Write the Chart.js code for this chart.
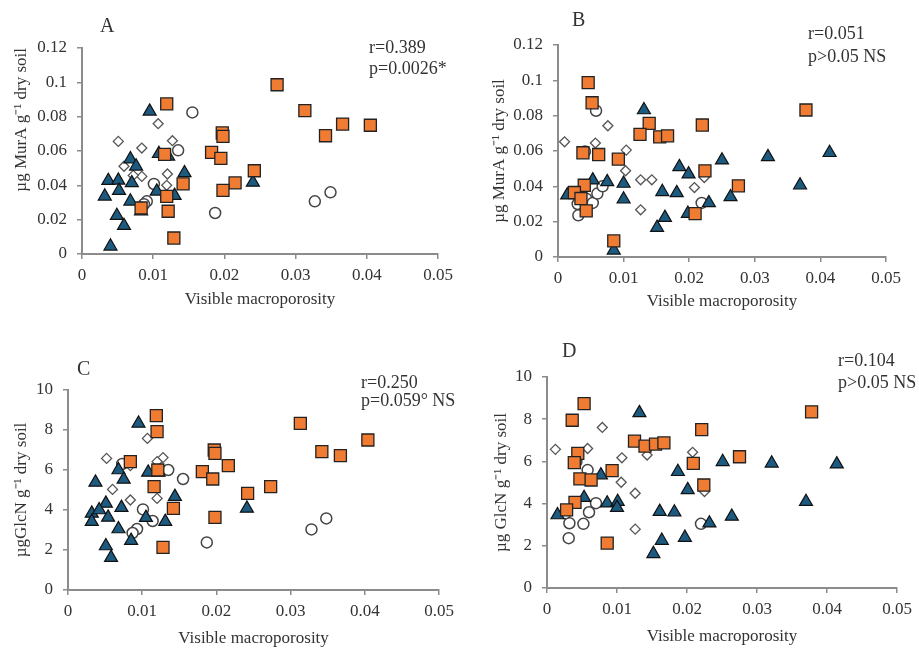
<!DOCTYPE html>
<html>
<head>
<meta charset="utf-8">
<script src="https://cdn.jsdelivr.net/npm/chart.js@4.4.0/dist/chart.umd.min.js"></script>
<style>
  body { margin: 0; background: #fff; }
  #page { position: relative; width: 919px; height: 649px; overflow: hidden; font-family: "Liberation Serif", serif; color: #333; }
  canvas { position: absolute; }
  .txt { position: absolute; white-space: nowrap; line-height: 1; }
</style>
</head>
<body>
<div id="page">
  <canvas id="chartA" width="460" height="320" style="left:0;top:0"></canvas>
  <canvas id="chartB" width="439" height="320" style="left:480px;top:0"></canvas>
  <canvas id="chartC" width="460" height="324" style="left:0;top:325px"></canvas>
  <canvas id="chartD" width="439" height="324" style="left:480px;top:325px"></canvas>

  <div class="txt" style="left:100px;top:15px;font-size:20px">A</div>
  <div class="txt" style="left:572px;top:9px;font-size:20px">B</div>
  <div class="txt" style="left:77px;top:358px;font-size:20px">C</div>
  <div class="txt" style="left:562px;top:340px;font-size:20px">D</div>

  <div class="txt" style="left:369px;top:38px;font-size:18px">r=0.389</div>
  <div class="txt" style="left:369px;top:59px;font-size:18px">p=0.0026*</div>
  <div class="txt" style="left:808px;top:24px;font-size:18px">r=0.051</div>
  <div class="txt" style="left:808px;top:47px;font-size:18px">p&gt;0.05 NS</div>
  <div class="txt" style="left:361px;top:373px;font-size:18px">r=0.250</div>
  <div class="txt" style="left:361px;top:391px;font-size:18px">p=0.059° NS</div>
  <div class="txt" style="left:838px;top:351px;font-size:18px">r=0.104</div>
  <div class="txt" style="left:838px;top:373px;font-size:18px">p&gt;0.05 NS</div>
</div>
<script>
// Panel A: MurA vs visible macroporosity
const aSquares = [[0.0274,0.0986],[0.0119,0.0874],[0.0313,0.0835],[0.0366,0.0757],[0.0405,0.0750],[0.0342,0.0689],[0.0197,0.0705],[0.0198,0.0685],[0.0182,0.0592],[0.0195,0.0557],[0.0116,0.0580],[0.0242,0.0485],[0.0142,0.0408],[0.0215,0.0414],[0.0198,0.0371],[0.0119,0.0336],[0.0083,0.0268],[0.0121,0.0249],[0.0129,0.0093]];
const aTriangles = [[0.0095,0.0831],[0.0108,0.0584],[0.0121,0.0569],[0.0068,0.0553],[0.0076,0.0511],[0.0144,0.0472],[0.0037,0.0427],[0.0051,0.0429],[0.0070,0.0414],[0.0240,0.0417],[0.0052,0.0369],[0.0105,0.0365],[0.0032,0.0336],[0.0130,0.0340],[0.0068,0.0307],[0.0083,0.0249],[0.0049,0.0223],[0.0059,0.0165],[0.0040,0.0045]];
const aCircles = [[0.0155,0.0825],[0.0135,0.0604],[0.0101,0.0408],[0.0091,0.0307],[0.0087,0.0290],[0.0118,0.0340],[0.0187,0.0239],[0.0327,0.0307],[0.0349,0.0359],[0.0083,0.0270]];
const aDiamonds = [[0.0051,0.0656],[0.0107,0.0759],[0.0084,0.0617],[0.0127,0.0660],[0.0059,0.0511],[0.0084,0.0452],[0.0120,0.0466],[0.0119,0.0400],[0.0072,0.0458]];

// Panel B
const bSquares = [[0.0046,0.0987],[0.0052,0.0873],[0.0378,0.0832],[0.0139,0.0756],[0.0125,0.0694],[0.0155,0.0680],[0.0167,0.0686],[0.0220,0.0747],[0.0038,0.0590],[0.0062,0.0580],[0.0092,0.0554],[0.0224,0.0488],[0.0275,0.0403],[0.0040,0.0406],[0.0025,0.0365],[0.0035,0.0331],[0.0043,0.0261],[0.0209,0.0246],[0.0085,0.0091]];
const bTriangles = [[0.0131,0.0832],[0.0414,0.0590],[0.0320,0.0567],[0.0250,0.0548],[0.0185,0.0510],[0.0199,0.0469],[0.0053,0.0435],[0.0075,0.0425],[0.0100,0.0416],[0.0369,0.0406],[0.0014,0.0350],[0.0159,0.0369],[0.0181,0.0363],[0.0100,0.0327],[0.0230,0.0306],[0.0263,0.0340],[0.0198,0.0246],[0.0163,0.0223],[0.0151,0.0166],[0.0085,0.0038]];
const bCircles = [[0.0058,0.0828],[0.0041,0.0597],[0.0031,0.0236],[0.0030,0.0300],[0.0043,0.0330],[0.0053,0.0306],[0.0060,0.0359],[0.0068,0.0400],[0.0219,0.0306]];
const bDiamonds = [[0.0010,0.0652],[0.0076,0.0743],[0.0057,0.0645],[0.0104,0.0605],[0.0103,0.0488],[0.0126,0.0437],[0.0143,0.0437],[0.0126,0.0267],[0.0208,0.0393],[0.0223,0.0450]];

// Panel C: GlcN
const cSquares = [[0.0119,8.72],[0.0120,7.92],[0.0313,8.33],[0.0404,7.50],[0.0342,6.92],[0.0367,6.72],[0.0197,7.00],[0.0198,6.83],[0.0216,6.22],[0.0181,5.92],[0.0195,5.55],[0.0084,6.42],[0.0121,6.00],[0.0116,5.17],[0.0273,5.17],[0.0242,4.83],[0.0142,4.08],[0.0198,3.63],[0.0128,2.13]];
const cTriangles = [[0.0095,8.33],[0.0108,5.88],[0.0122,5.88],[0.0068,6.00],[0.0075,5.53],[0.0144,4.67],[0.0037,5.38],[0.0051,4.33],[0.0072,4.12],[0.0241,4.08],[0.0054,3.63],[0.0105,3.62],[0.0032,3.83],[0.0032,3.42],[0.0042,4.00],[0.0131,3.42],[0.0068,3.05],[0.0085,2.47],[0.0051,2.20],[0.0058,1.62]];
const cCircles = [[0.0155,5.55],[0.0135,6.00],[0.0101,4.03],[0.0114,3.45],[0.0093,3.05],[0.0087,2.85],[0.0187,2.38],[0.0328,3.03],[0.0348,3.58],[0.0073,6.30]];
const cDiamonds = [[0.0052,6.58],[0.0107,7.58],[0.0084,6.22],[0.0128,6.62],[0.0060,5.03],[0.0084,4.50],[0.0120,4.58],[0.0120,6.42]];

// Panel D
const dSquares = [[0.0053,8.74],[0.0036,7.95],[0.0378,8.35],[0.0221,7.51],[0.0125,6.96],[0.0140,6.72],[0.0155,6.82],[0.0167,6.88],[0.0044,6.38],[0.0039,5.94],[0.0275,6.22],[0.0209,5.91],[0.0093,5.56],[0.0047,5.17],[0.0063,5.12],[0.0224,4.88],[0.0040,4.06],[0.0028,3.70],[0.0086,2.13]];
const dTriangles = [[0.0132,8.30],[0.0414,5.87],[0.0321,5.91],[0.0251,5.98],[0.0187,5.51],[0.0201,4.65],[0.0077,5.35],[0.0053,4.28],[0.0086,4.02],[0.0101,4.09],[0.0100,3.81],[0.0370,4.09],[0.0015,3.46],[0.0161,3.62],[0.0182,3.59],[0.0264,3.39],[0.0232,3.07],[0.0197,2.39],[0.0164,2.25],[0.0152,1.62]];
const dCircles = [[0.0042,5.98],[0.0058,5.59],[0.0060,3.59],[0.0070,4.02],[0.0052,3.04],[0.0032,3.07],[0.0031,2.36],[0.0220,3.04],[0.0026,3.54]];
const dDiamonds = [[0.0012,6.57],[0.0079,7.61],[0.0058,6.61],[0.0107,6.17],[0.0143,6.30],[0.0208,6.43],[0.0106,5.01],[0.0126,4.49],[0.0225,4.57],[0.0126,2.79]];

const xTicks = [0, 0.01, 0.02, 0.03, 0.04, 0.05];
const murTicks = [0, 0.02, 0.04, 0.06, 0.08, 0.1, 0.12];
const glcTicks = [0, 2, 4, 6, 8, 10];

const FONT = 'Liberation Serif';
const axisGray = '#8c8c8c';

function toPoints(arr) {
    return arr.map(p => ({ x: p[0], y: p[1] }));
}

function datasets(sq, tri, circ, dia) {
    return [
        { data: toPoints(sq), pointStyle: 'rect', pointRadius: 8.5, backgroundColor: '#f07c33', borderColor: '#222', borderWidth: 1.3 },
        { data: toPoints(tri), pointStyle: 'triangle', pointRadius: 7.5, backgroundColor: '#1d5a80', borderColor: '#111', borderWidth: 1.2 },
        { data: toPoints(circ), pointStyle: 'circle', pointRadius: 5.5, backgroundColor: '#fff', borderColor: '#444', borderWidth: 1.5 },
        { data: toPoints(dia), pointStyle: 'rectRot', pointRadius: 5, backgroundColor: '#fff', borderColor: '#555', borderWidth: 1.3 }
    ];
}

// geometry: canvas box + wanted plot area (page coords)
function makePanel(id, g, sets, yTicks, yTitle, yAlign) {
    const yMax = yTicks[yTicks.length - 1];
    const yStep = yTicks[1] - yTicks[0];
    new Chart(document.getElementById(id), {
        type: 'scatter',
        data: { datasets: sets },
        options: {
            responsive: false,
            animation: false,
            events: [],
            layout: {
                autoPadding: false,
                padding: { left: 0, top: g.top - g.cy, right: g.cx + g.cw - g.right, bottom: 0 }
            },
            plugins: { legend: { display: false }, tooltip: { enabled: false } },
            scales: {
                x: {
                    type: 'linear', min: 0, max: 0.05,
                    afterFit: s => { s.height = g.cy + g.ch - g.bottom; },
                    afterBuildTicks: s => { s.ticks = xTicks.map(v => ({ value: v })); },
                    border: { display: true, color: axisGray, width: 2 },
                    grid: { drawOnChartArea: false, color: axisGray, lineWidth: 1.5, tickLength: 5 },
                    ticks: { color: '#333', padding: 6, font: { family: FONT, size: 17 }, callback: v => String(+v.toFixed(3)) },
                    title: { display: true, text: 'Visible macroporosity', color: '#333', font: { family: FONT, size: 17 }, padding: { top: 0, bottom: g.xtPad } }
                },
                y: {
                    type: 'linear', min: 0, max: yMax,
                    afterFit: s => { s.width = g.left - g.cx; },
                    afterBuildTicks: s => { s.ticks = yTicks.map(v => ({ value: v })); },
                    border: { display: true, color: axisGray, width: 2 },
                    grid: { drawOnChartArea: false, color: axisGray, lineWidth: 1.5, tickLength: 5 },
                    ticks: { color: '#333', padding: 10, stepSize: yStep, font: { family: FONT, size: 17 }, callback: v => String(+v.toFixed(3)) },
                    title: { display: true, text: yTitle, align: yAlign, color: '#333', font: { family: FONT, size: 17 }, padding: { top: g.ytPad, bottom: 0 } }
                }
            }
        }
    });
}

makePanel('chartA', { cx: 0, cy: 0, cw: 460, ch: 320, left: 82, top: 48, right: 438, bottom: 254, ytPad: 11.5, xtPad: 9.8 },
    datasets(aSquares, aTriangles, aCircles, aDiamonds), murTicks, 'µg MurA g⁻¹ dry soil', 'end');
makePanel('chartB', { cx: 480, cy: 0, cw: 439, ch: 320, left: 558, top: 45, right: 886, bottom: 257, ytPad: 9.8, xtPad: 7.8 },
    datasets(bSquares, bTriangles, bCircles, bDiamonds), murTicks, 'µg MurA g⁻¹ dry soil', 'center');
makePanel('chartC', { cx: 0, cy: 325, cw: 460, ch: 324, left: 68, top: 390, right: 441, bottom: 590, ytPad: 11.5, xtPad: 0.5 },
    datasets(cSquares, cTriangles, cCircles, cDiamonds), glcTicks, 'µgGlcN g⁻¹ dry soil', 'center');
makePanel('chartD', { cx: 480, cy: 325, cw: 439, ch: 324, left: 547, top: 377, right: 897, bottom: 588, ytPad: 11.5, xtPad: 2.1 },
    datasets(dSquares, dTriangles, dCircles, dDiamonds), glcTicks, 'µg GlcN g⁻¹ dry soil', 'center');
</script>
</body>
</html>
